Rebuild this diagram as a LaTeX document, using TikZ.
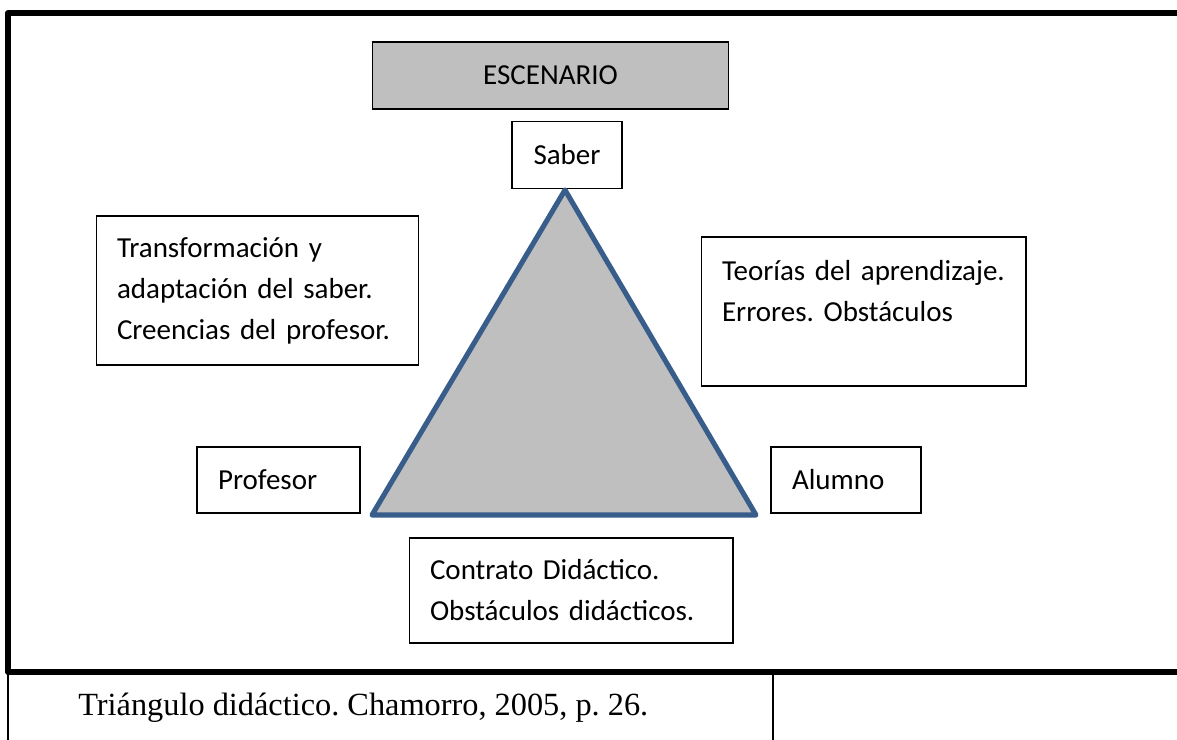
\documentclass[tikz,border=0pt]{standalone}
\usepackage{fontspec}
\usepackage{xcolor}
\setmainfont{Carlito}
\newfontfamily\captionfont{Liberation Serif}
\usetikzlibrary{positioning, calc}
\definecolor{triblue}{RGB}{56, 93, 138}
\definecolor{trigray}{RGB}{191, 191, 191}
\newcommand{\boxfont}{\fontsize{16.5}{23.3}\selectfont}

\begin{document}
\frenchspacing
\begin{tikzpicture}[
        x=0.02cm, y=-0.02cm,
        block/.style={draw, line width=0.6pt, minimum height=1.34cm, inner sep=0pt, font=\boxfont},
        textblock/.style={draw, line width=0.6pt, align=left, inner ysep=0pt, inner xsep=0.42cm, font=\boxfont},
        frame/.style={line width=3.4pt, line join=round}
    ]
        \useasboundingbox (0,0) rectangle (1177,740);

        % Frame and caption table
        \draw[frame] (1177,13) -- (8,13) -- (8,672) -- (1177,672);
        \draw[line width=0.6pt] (8,672) -- (8,740);
        \draw[line width=0.6pt] (773,672) -- (773,740);
        \node[anchor=base west, inner sep=0pt, font=\captionfont\fontsize{18.4}{22}\selectfont] (caption) at (78,715) {Triángulo didáctico. Chamorro, 2005, p. 26.};

        % Top
        \node[block, fill=trigray, minimum width=7.14cm] (escenario) at (550.5,75.5) {ESCENARIO};
        \node[block, fill=white, minimum width=2.2cm] (saber) at (567,155) {Saber};

        % Triangle
        \coordinate (apex) at (565,190);
        \coordinate (left) at (372,515);
        \coordinate (right) at (756,515);
        \draw[triblue, fill=trigray, line width=2.9pt, line join=round] (apex) -- (left) -- (right) -- cycle;

        % Corners
        \node[textblock, text width=2.42cm, minimum height=1.32cm] (profesor) at (278.5,480) {Profesor};
        \node[textblock, text width=2.16cm, minimum height=1.32cm] (alumno) at (846,480) {Alumno};

        % Sides
        \node[textblock, text width=5.62cm, minimum height=2.98cm] (transf) at (257.5,290.5) {Transformación y\\adaptación del saber.\\Creencias del profesor.};
        \node[textblock, text width=5.66cm, minimum height=2.98cm] (teorias) at (863.5,311.5) {Teorías del aprendizaje.\\Errores. Obstáculos\\\mbox{}};
        \node[textblock, text width=5.64cm, minimum height=2.1cm] (contrato) at (571,590.5) {Contrato Didáctico.\\Obstáculos didácticos.};
    \end{tikzpicture}
\end{document}
